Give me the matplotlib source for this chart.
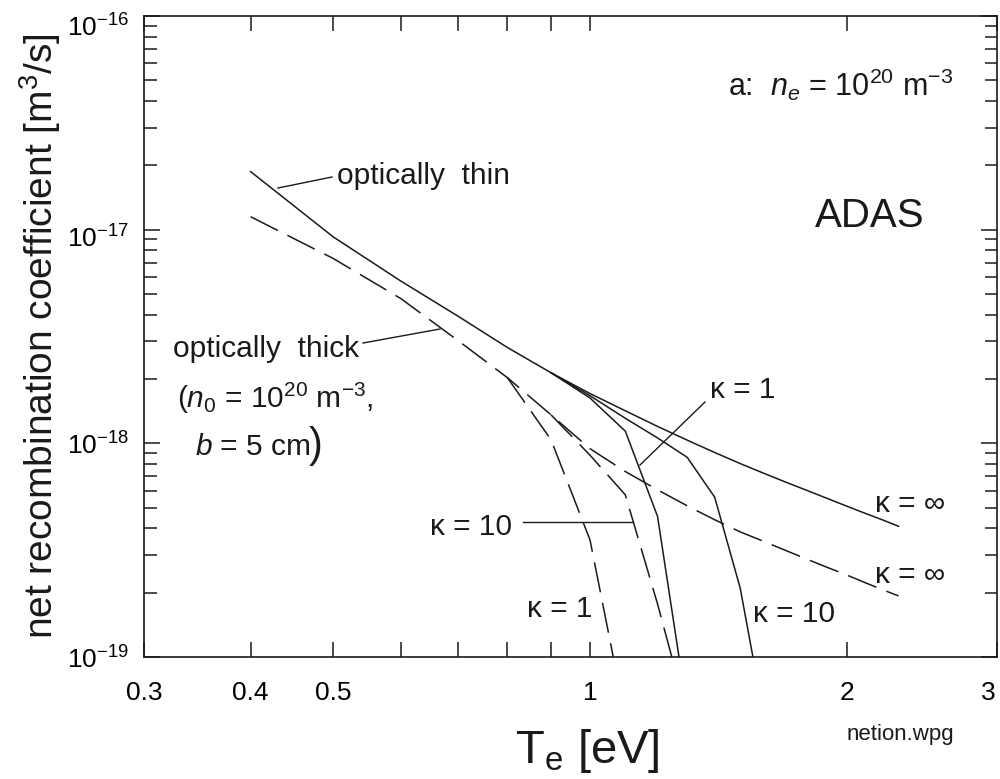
import matplotlib
matplotlib.use("Agg")
import matplotlib.pyplot as plt
from matplotlib.ticker import FixedLocator, FixedFormatter, NullFormatter, LogLocator
from matplotlib.transforms import ScaledTranslation

plt.rcParams['font.family'] = ['Liberation Sans', 'DejaVu Sans']
plt.rcParams['mathtext.fontset'] = 'custom'
plt.rcParams['mathtext.rm'] = 'Liberation Sans'
plt.rcParams['mathtext.it'] = 'Liberation Sans:italic'
plt.rcParams['mathtext.bf'] = 'Liberation Sans:bold'

# ---- data ----
T_main = [0.4, 0.5, 0.6, 0.7, 0.8, 0.9, 1.0, 1.1, 1.2, 1.3, 1.4, 1.5,
          1.6, 1.7, 1.8, 1.9, 2.0, 2.1, 2.2, 2.3]
thin_inf = [1.87e-17, 9.25e-18, 5.75e-18, 3.94e-18, 2.81e-18, 2.14e-18,
            1.71e-18, 1.42e-18, 1.20e-18, 1.035e-18, 9.06e-19, 8.04e-19,
            7.23e-19, 6.56e-19, 6.00e-19, 5.51e-19, 5.08e-19, 4.71e-19,
            4.39e-19, 4.09e-19]
thick_inf = [1.15e-17, 7.33e-18, 4.76e-18, 3.03e-18, 2.03e-18, 1.36e-18,
             9.44e-19, 7.38e-19, 6.06e-19, 5.10e-19, 4.39e-19, 3.85e-19,
             3.47e-19, 3.14e-19, 2.86e-19, 2.62e-19, 2.42e-19, 2.23e-19,
             2.07e-19, 1.93e-19]

T_thin_k1 = [0.9, 1.0, 1.1, 1.2, 1.3]
thin_k1 = [2.14e-18, 1.63e-18, 1.14e-18, 4.55e-19, 5.6e-20]

T_thin_k10 = [0.9, 1.0, 1.1, 1.2, 1.3, 1.4, 1.5, 1.6]
thin_k10 = [2.14e-18, 1.67e-18, 1.31e-18, 1.06e-18, 8.6e-19, 5.6e-19,
            2.1e-19, 5.2e-20]

T_thick_k1 = [0.8, 0.9, 1.0, 1.1]
thick_k1 = [2.03e-18, 1.04e-18, 3.53e-19, 5.2e-20]

T_thick_k10 = [0.9, 1.0, 1.1, 1.2, 1.3]
thick_k10 = [1.36e-18, 8.8e-19, 5.74e-19, 1.77e-19, 5.4e-20]

x_ticks = [0.3, 0.4, 0.5, 1, 2, 3]
x_ticklabels = ['0.3', '0.4', '0.5', '1', '2', '3']
x_minor = [0.6, 0.7, 0.8, 0.9]
y_ticks = [1e-19, 1e-18, 1e-17, 1e-16]
y_ticklabels = [r'$10^{-19}$', r'$10^{-18}$', r'$10^{-17}$', r'$10^{-16}$']

# ---- figure ----
W, H = 1000, 779
fig = plt.figure(figsize=(10, 7.79), dpi=100)
L, R, TOP, BOT = 144, 997, 16, 657
ax = fig.add_axes([L / W, 1 - BOT / H, (R - L) / W, (BOT - TOP) / H])

def P(x, y):
    """pixel -> axes fraction"""
    return ((x - L) / (R - L), (BOT - y) / (BOT - TOP))

lc = '#1a1a1a'
lw = 1.1
dash = (20, 7)

ax.plot(T_main, thin_inf, color=lc, lw=lw)
ax.plot(T_thin_k1, thin_k1, color=lc, lw=lw)
ax.plot(T_thin_k10, thin_k10, color=lc, lw=lw)
ax.plot(T_main, thick_inf, color=lc, lw=lw, dashes=dash)
ax.plot(T_thick_k1, thick_k1, color=lc, lw=lw, dashes=dash)
ax.plot(T_thick_k10, thick_k10, color=lc, lw=lw, dashes=dash)

ax.set_xscale('log')
ax.set_yscale('log')
ax.set_xlim(0.3, 3)
ax.set_ylim(1e-19, 1e-16)

ax.xaxis.set_major_locator(FixedLocator(x_ticks))
ax.xaxis.set_major_formatter(FixedFormatter(x_ticklabels))
ax.xaxis.set_minor_locator(FixedLocator(x_minor))
ax.xaxis.set_minor_formatter(NullFormatter())
ax.yaxis.set_major_locator(FixedLocator(y_ticks))
ax.yaxis.set_major_formatter(FixedFormatter(y_ticklabels))
ax.yaxis.set_minor_locator(LogLocator(base=10, subs=range(2, 10)))
ax.yaxis.set_minor_formatter(NullFormatter())

for s in ax.spines.values():
    s.set_linewidth(1.2)
    s.set_color(lc)

ax.tick_params(which='both', direction='in', top=True, right=True,
               width=1.1, color=lc)
ax.tick_params(axis='x', which='both', length=11, pad=17, labelsize=19)
ax.tick_params(axis='y', which='major', length=11.5, pad=11, labelsize=19)
ax.tick_params(axis='y', which='minor', length=9)

fig.canvas.draw()
# nudge tick labels like the reference
xl = ax.get_xticklabels()
xl[-1].set_horizontalalignment('right')
xl[-1].set_transform(xl[-1].get_transform() +
                     ScaledTranslation(-1 / 100, 0, fig.dpi_scale_trans))
y_shift_px = [0, 0, 7, 9]
for lab, d in zip(ax.get_yticklabels(), y_shift_px):
    if d:
        lab.set_transform(lab.get_transform() +
                          ScaledTranslation(0, -d / 100, fig.dpi_scale_trans))

# axis labels
ax.set_ylabel(r'net recombination coefficient [m$^3$/s]', fontsize=28,
              color=lc)
ax.yaxis.label.set_verticalalignment('center')
ax.yaxis.label.set_horizontalalignment('center')
ax.yaxis.set_label_coords((40 - L) / (R - L), 0.5)
ax.set_xlabel(r'T$_\mathrm{e}$ [eV]', fontsize=34, color=lc)
ax.xaxis.label.set_verticalalignment('center')
ax.xaxis.set_label_coords((587 - L) / (R - L), (BOT - 751) / (BOT - TOP))

fig.text(847 / W, 1 - 740 / H, 'netion.wpg', ha='left', va='baseline',
         fontsize=16, color=lc)

fs = 21.5
def txt(x, y, s, size=fs, **kw):
    ax.text(*P(x, y), s, transform=ax.transAxes, ha='left', va='baseline',
            fontsize=size, color=lc, **kw)

def seg(x0, y0, x1, y1):
    (a, b), (c, d) = P(x0, y0), P(x1, y1)
    ax.plot([a, c], [b, d], transform=ax.transAxes, color=lc, lw=1.0,
            clip_on=False)

txt(728, 96, r'a:  $n_e$ = 10$^{20}$ m$^{-3}$', size=22)
txt(815, 227, 'ADAS', size=29)
txt(337, 184, 'optically  thin')
seg(278, 188, 332, 177)
txt(173, 357, 'optically  thick')
seg(363, 343, 440, 329)
txt(177, 408, r'($n_{\mathit{0}}$ = 10$^{20}$ m$^{-3}$,')
txt(195, 455, r'$b$ = 5 cm')
txt(309, 457, ')', size=30)
txt(430, 535, 'κ = 10')
seg(523, 522, 633, 522)
txt(710, 398, 'κ = 1')
seg(705, 402, 640, 465)
txt(875, 512, 'κ = ∞')
txt(875, 583, 'κ = ∞')
txt(527, 617, 'κ = 1')
txt(753, 622, 'κ = 10')

fig.savefig('out.png', dpi=100, facecolor='white')
